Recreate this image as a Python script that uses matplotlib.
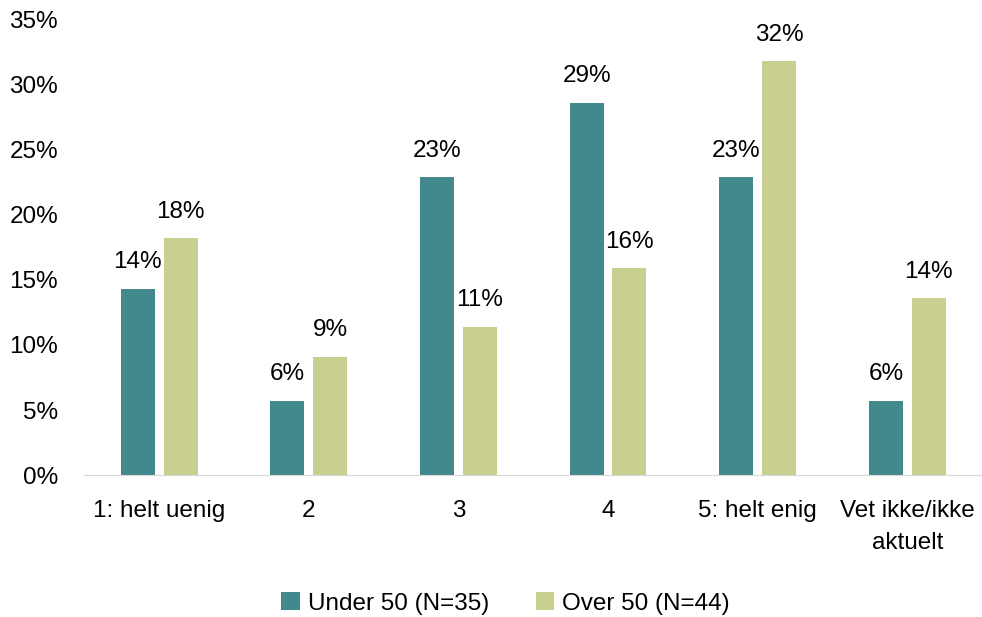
import numpy as np
import matplotlib.pyplot as plt

categories = ['1: helt uenig', '2', '3', '4', '5: helt enig', 'Vet ikke/ikke\naktuelt']
under_50 = [14.3, 5.7, 22.9, 28.6, 22.9, 5.7]
over_50 = [18.2, 9.1, 11.4, 15.9, 31.8, 13.6]
series_names = ['Under 50 (N=35)', 'Over 50 (N=44)']
colors = ['#43888D', '#C8CF8F']

plt.rcParams['font.family'] = ['Liberation Sans', 'DejaVu Sans']
fs = 17.5

fig = plt.figure(figsize=(9.82, 6.17), dpi=100)
ax = fig.add_axes([0.086, 0.230, 0.914, 0.738])

x = np.arange(len(categories))
w = 0.227
off = 0.143

for vals, name, col, dx in zip([under_50, over_50], series_names, colors, [-off, off]):
    bars = ax.bar(x + dx, vals, w, color=col, label=name)
    for b, v in zip(bars, vals):
        ax.text(b.get_x() + b.get_width() / 2, v + 1.2, f'{v:.0f}%',
                ha='center', va='bottom', fontsize=fs)

ax.set_xlim(-0.5, len(categories) - 0.5)
ax.set_ylim(0, 35)
ax.set_yticks(np.arange(0, 36, 5))
ax.set_yticklabels([f'{t}%' for t in range(0, 36, 5)], fontsize=fs)
ax.set_xticks(x)
ax.set_xticklabels(categories, fontsize=fs, linespacing=1.6)
ax.tick_params(axis='x', length=0, pad=18)
ax.tick_params(axis='y', length=0, pad=19)
for s in ['top', 'right', 'left']:
    ax.spines[s].set_visible(False)
ax.spines['bottom'].set_color('#D9D9D9')

fig.legend(loc='center', bbox_to_anchor=(0.515, 0.022), ncol=2, frameon=False,
           fontsize=fs, handlelength=0.75, handleheight=0.75, columnspacing=1.9, handletextpad=0.35)

fig.savefig('out.png', dpi=100)
